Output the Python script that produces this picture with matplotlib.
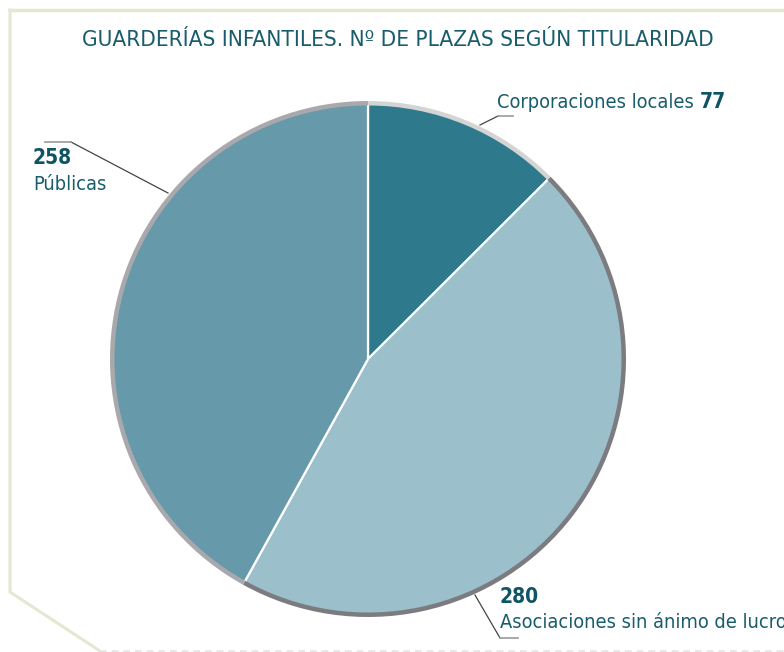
import matplotlib
matplotlib.use("Agg")
import matplotlib.pyplot as plt
from matplotlib import font_manager
from matplotlib.font_manager import FontProperties

W, H = 784, 652

# data
labels = ["Corporaciones locales", "Asociaciones sin ánimo de lucro", "Públicas"]
values = [77, 280, 258]
colors = ["#2e7a8c", "#9bbfcb", "#6699a9"]
rim_colors = ["#d4d4d4", "#7c7c80", "#a9a9ad"]
title = "GUARDERÍAS INFANTILES. Nº DE PLAZAS SEGÚN TITULARIDAD"


def find_font(bold):
    # look for a narrow/condensed face, fall back to DejaVu Sans
    cands = []
    for f in font_manager.fontManager.ttflist:
        low = f.fname.lower()
        if ("narrow" in low or "condensed" in low) and "oblique" not in low and "italic" not in low:
            isbold = "bold" in low
            if isbold == bold:
                cands.append(f.fname)
    cands.sort(key=lambda p: (0 if "liberation" in p.lower() else 1, len(p)))
    return cands[0] if cands else None


reg = find_font(False)
bld = find_font(True)


def fp(size, bold=False):
    path = bld if bold else reg
    if path:
        return FontProperties(fname=path, size=size)
    return FontProperties(family="DejaVu Sans", size=size,
                          weight="bold" if bold else "normal")


txt_col = "#195d6c"
num_col = "#0f5464"
narrow = reg is not None

fig = plt.figure(figsize=(W / 100, H / 100), dpi=100)
ax = fig.add_axes([0, 0, 1, 1])

# page frame
frame = "#e6e6d3"
ax.plot([8, W], [H - 10, H - 10], color=frame, lw=2.5, solid_capstyle="butt")
ax.plot([10, 10, 100], [H - 10, H - 592, H - 651], color=frame, lw=2.2)
ax.plot([100, W], [1, 1], color="#e4e4e4", lw=1.2, ls=(0, (4, 3)))

cx, cy, r = 368, H - 359, 258
ax.pie(values, colors=colors, startangle=90, counterclock=False,
       center=(cx, cy), radius=r, frame=True,
       wedgeprops=dict(edgecolor="white", linewidth=1.6))
ax.pie(values, colors=rim_colors, startangle=90, counterclock=False,
       center=(cx, cy), radius=r, frame=True,
       wedgeprops=dict(width=4.5, linewidth=0))
ax.set_xlim(0, W)
ax.set_ylim(0, H)
ax.set_aspect("equal")
ax.axis("off")

ax.text(398, H - 40, title, ha="center", va="center", color=txt_col,
        fontproperties=fp(16.2 if narrow else 16))

# leader lines
lc = "#444444"
ax.plot([168, 71], [H - 193, H - 142], color=lc, lw=0.9)
ax.plot([71, 45], [H - 142, H - 142], color="#999999", lw=1.2)
ax.plot([480, 498], [H - 125, H - 116], color=lc, lw=0.9)
ax.plot([498, 513], [H - 116, H - 116], color="#999999", lw=1.2)
ax.plot([475, 500], [H - 595, H - 638], color=lc, lw=0.9)
ax.plot([500, 518], [H - 638, H - 638], color="#999999", lw=1.2)

fs = 14.3 if narrow else 14.5
ax.text(33, H - 158, str(values[2]), ha="left", va="center",
        color=num_col, fontproperties=fp(fs + 0.7, True))
ax.text(33, H - 184, labels[2], ha="left", va="center",
        color=txt_col, fontproperties=fp(fs))

t = ax.text(497, H - 102, labels[0] + " ", ha="left", va="center",
            color=txt_col, fontproperties=fp(fs))
fig.canvas.draw()
bb = t.get_window_extent().transformed(ax.transData.inverted())
ax.text(bb.x1, H - 102, str(values[0]), ha="left", va="center",
        color=num_col, fontproperties=fp(fs + 0.7, True))

ax.text(500, H - 597, str(values[1]), ha="left", va="center",
        color=num_col, fontproperties=fp(fs + 0.7, True))
ax.text(500, H - 622, labels[1], ha="left", va="center",
        color=txt_col, fontproperties=fp(fs))

fig.savefig("out.png", dpi=100)
